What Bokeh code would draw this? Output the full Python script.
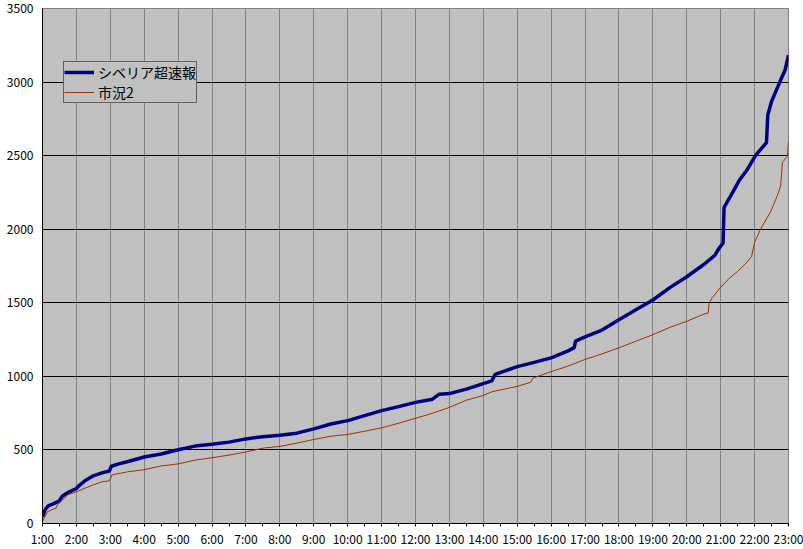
from bokeh.plotting import figure
from bokeh.models import FixedTicker, Range1d
from bokeh.embed import file_html
from bokeh.resources import INLINE

# ---- data (hours as decimal, cumulative counts) ----
hour_ticks = list(range(1, 24))
hour_labels = ["1:00", "2:00", "3:00", "4:00", "5:00", "6:00", "7:00", "8:00",
               "9:00", "10:00", "11:00", "12:00", "13:00", "14:00", "15:00",
               "16:00", "17:00", "18:00", "19:00", "20:00", "21:00", "22:00", "23:00"]
y_ticks = [0, 500, 1000, 1500, 2000, 2500, 3000, 3500]

series1_name = "シベリア超速報"
series1_t = [1.0, 1.08, 1.17, 1.33, 1.5, 1.58, 1.75, 2.0, 2.08, 2.25, 2.5, 2.75, 2.97, 3.03,
             3.25, 3.5, 4.0, 4.5, 5.0, 5.5, 6.0, 6.5, 7.0, 7.5, 8.0, 8.5, 9.0, 9.5, 10.0,
             10.5, 11.0, 11.5, 12.0, 12.5, 12.7, 13.0, 13.5, 14.0, 14.25, 14.35, 15.0,
             15.5, 16.0, 16.5, 16.68, 16.72, 17.0, 17.5, 18.0, 18.5, 19.0, 19.5, 20.0,
             20.5, 20.83, 20.95, 21.07, 21.1, 21.3, 21.54, 21.79, 22.03, 22.35, 22.39,
             22.5, 22.77, 22.9, 23.0]
series1_v = [47, 95, 120, 135, 155, 185, 210, 238, 258, 290, 324, 344, 357, 389,
             405, 420, 452, 472, 501, 526, 539, 553, 575, 590, 600, 614, 643, 676, 699,
             733, 767, 794, 823, 845, 879, 883, 913, 951, 969, 1014, 1066,
             1095, 1126, 1173, 1195, 1239, 1268, 1315, 1385, 1452, 1519, 1603, 1677,
             1760, 1823, 1870, 1905, 2149, 2228, 2329, 2408, 2502, 2588, 2778,
             2868, 3015, 3082, 3183]

series2_name = "市況2"
series2_t = [1.0, 1.15, 1.4, 1.45, 1.5, 1.75, 2.0, 2.5, 2.75, 2.97, 3.05, 3.5, 4.0, 4.5,
             5.0, 5.5, 6.0, 6.5, 7.0, 7.5, 8.0, 8.5, 9.0, 9.5, 10.0, 10.5, 11.0, 11.5,
             12.0, 12.5, 13.0, 13.5, 14.0, 14.25, 15.0, 15.4, 15.45, 15.5, 16.0, 16.5,
             17.0, 17.5, 18.0, 18.5, 19.0, 19.5, 20.0, 20.5, 20.63, 20.66, 20.75, 21.0,
             21.25, 21.5, 21.75, 21.91, 22.0, 22.18, 22.47, 22.67, 22.77, 22.82, 22.97, 23.0]
series2_v = [15, 81, 105, 130, 140, 195, 216, 263, 283, 290, 330, 351, 366, 391,
             405, 431, 447, 465, 486, 512, 524, 546, 571, 593, 605, 627, 650, 681,
             715, 749, 789, 838, 870, 895, 932, 960, 985, 991, 1032, 1070,
             1115, 1153, 1194, 1239, 1283, 1333, 1374, 1423, 1430, 1497, 1535, 1605,
             1666, 1713, 1770, 1814, 1910, 2003, 2117, 2228, 2295, 2453, 2497, 2598]

FONT = "Noto Sans CJK JP"

p = figure(width=803, height=549, output_backend="svg", toolbar_location=None,
           x_range=Range1d(1, 23), y_range=Range1d(0, 3500),
           min_border_left=42, min_border_right=15, min_border_top=8, min_border_bottom=22)

p.background_fill_color = "#C0C0C0"
p.border_fill_color = "white"
p.outline_line_color = "#808080"
p.outline_line_width = 1

p.line(series1_t, series1_v, line_color="#000080", line_width=3.5, legend_label=series1_name)
p.line(series2_t, series2_v, line_color="#993300", line_width=1, legend_label=series2_name)

# x axis
p.xaxis.ticker = FixedTicker(ticks=hour_ticks,
                             minor_ticks=[h + 0.5 for h in hour_ticks[:-1]])
p.xaxis.major_label_overrides = {h: lab for h, lab in zip(hour_ticks, hour_labels)}
p.xaxis.major_tick_in = 0
p.xaxis.major_tick_out = 3
p.xaxis.minor_tick_in = 0
p.xaxis.minor_tick_out = 3
p.xaxis.major_label_standoff = 3
p.xaxis.axis_line_color = "black"
p.xaxis.major_tick_line_color = "black"
p.xaxis.minor_tick_line_color = "black"
p.xaxis.major_label_text_font = FONT
p.xaxis.major_label_text_font_size = "12px"
p.xaxis.major_label_text_color = "black"

# y axis
p.yaxis.ticker = FixedTicker(ticks=y_ticks)
p.yaxis.major_tick_in = 0
p.yaxis.major_tick_out = 0
p.yaxis.minor_tick_line_color = None
p.yaxis.major_label_standoff = 9
p.yaxis.axis_line_color = "black"
p.yaxis.major_label_text_font = FONT
p.yaxis.major_label_text_font_size = "12px"
p.yaxis.major_label_text_color = "black"

# grids
p.xgrid.ticker = FixedTicker(ticks=hour_ticks)
p.xgrid.grid_line_color = "#808080"
p.xgrid.grid_line_width = 1
p.ygrid.ticker = FixedTicker(ticks=y_ticks)
p.ygrid.grid_line_color = "black"
p.ygrid.grid_line_width = 1

# legend
lg = p.legend[0]
lg.location = (21, 420)
lg.background_fill_color = "#C0C0C0"
lg.background_fill_alpha = 1
lg.border_line_color = "black"
lg.border_line_width = 1
lg.padding = 0
lg.spacing = 0
lg.margin = 0
lg.label_height = 20
lg.glyph_height = 20
lg.glyph_width = 30
lg.label_standoff = 4
lg.label_text_font = FONT
lg.label_text_font_size = "14px"
lg.label_text_color = "black"

open("out.html", "w").write(file_html(p, INLINE))
